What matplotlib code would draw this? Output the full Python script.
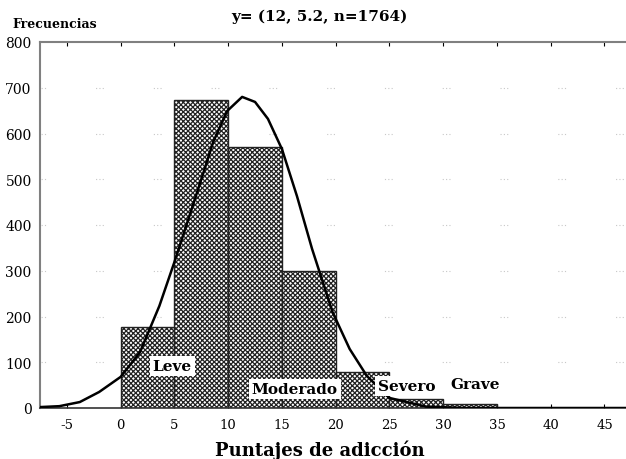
import matplotlib.pyplot as plt

plt.rcParams['font.family'] = ['DejaVu Serif']
plt.rcParams['hatch.linewidth'] = 0.9
plt.rcParams['axes.unicode_minus'] = False

# histogram bins (left edges) and counts
bin_left = [0, 5, 10, 15, 20, 25, 30]
counts = [178, 673, 570, 300, 78, 20, 8]

# fitted curve
curve_x = [-7.5, -5.7, -3.8, -2.0, 0.0, 1.8, 3.6, 5.0, 6.4, 7.6, 8.6, 9.9,
           11.3, 12.5, 13.7, 15.0, 16.4, 17.8, 19.7, 21.3, 22.9, 25.0, 28.4,
           32.0, 47.0]
curve_y = [2, 4, 13, 35, 68, 122, 223, 319, 420, 507, 581, 649,
           680, 669, 632, 566, 463, 348, 210, 129, 70, 22, 3,
           0, 0]

labels = ["Leve", "Moderado", "Severo", "Grave"]
label_x = [4.8, 16.2, 26.6, 33.0]
label_y = [92, 42, 48, 52]

xticks = [-5, 0, 5, 10, 15, 20, 25, 30, 35, 40, 45]
yticks = [0, 100, 200, 300, 400, 500, 600, 700, 800]

fig = plt.figure(figsize=(6.26, 4.60), dpi=100)
ax = fig.add_axes([40/626, 1-409/460, 1-40/626, (409-43)/460])

for y in yticks[1:-1]:
    ax.axhline(y, color='#c8c8c8', lw=0.8, linestyle=(2, (1, 2, 1, 2, 1, 45)), zorder=0)

ax.bar(bin_left, counts, width=5, align='edge', color='white', edgecolor='#222222',
       hatch='xxxxxxx', linewidth=1.0, zorder=2)
ax.plot(curve_x, curve_y, color='black', lw=1.8, zorder=3)

for t, x, y in zip(labels, label_x, label_y):
    box = dict(facecolor='white', edgecolor='none', pad=2) if t != "Grave" else None
    ax.text(x, y, t, ha='center', va='center', fontsize=11, fontweight='bold',
            bbox=box, zorder=4)

ax.set_xlim(-7.5, 47)
ax.set_ylim(0, 800)
ax.set_xticks(xticks)
ax.set_yticks(yticks)
ax.tick_params(axis='x', top=True, direction='in', length=3, pad=7, labelsize=9.5)
ax.tick_params(axis='y', length=0, pad=6, labelsize=10)

for s in ['left', 'top']:
    ax.spines[s].set_color('#808080')
    ax.spines[s].set_linewidth(1.5)
ax.spines['bottom'].set_color('#333333')
ax.spines['bottom'].set_linewidth(1.2)
ax.spines['right'].set_visible(False)

fig.text(0.511, 0.963, "y= (12, 5.2, n=1764)", ha='center', va='center',
         fontsize=11, fontweight='bold')
fig.text(12/626, 0.946, "Frecuencias", ha='left', va='center', fontsize=9,
         fontweight='bold')
fig.text(0.511, 0.022, "Puntajes de adicción", ha='center', va='center',
         fontsize=13, fontweight='bold')

fig.savefig("out.png", dpi=100)
